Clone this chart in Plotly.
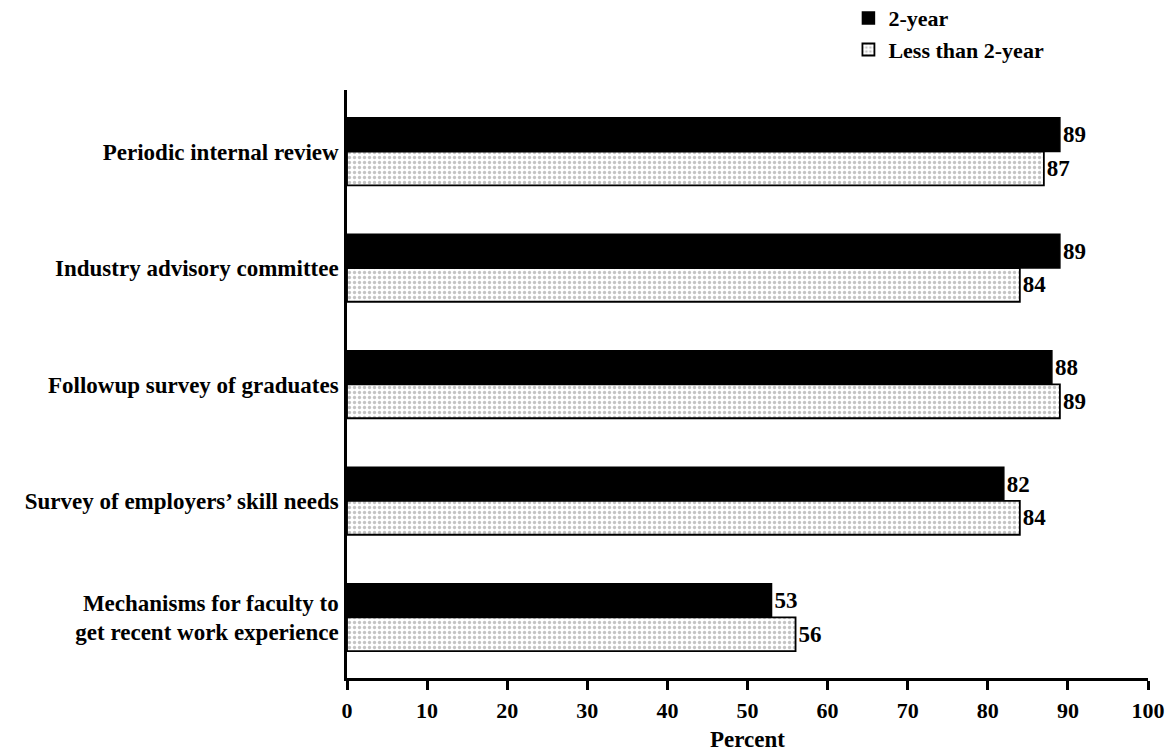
import plotly.graph_objects as go

categories = [
    "Periodic internal review",
    "Industry advisory committee",
    "Followup survey of graduates",
    "Survey of employers’ skill needs",
    "Mechanisms for faculty to<br>get recent work experience",
]
two_year = [89, 89, 88, 82, 53]
less_than_two_year = [87, 84, 89, 84, 56]
x_ticks = [0, 10, 20, 30, 40, 50, 60, 70, 80, 90, 100]

FONT = "Liberation Serif"

fig = go.Figure()
fig.add_trace(go.Bar(
    y=categories, x=two_year, orientation="h", name="2-year",
    marker=dict(color="black", line=dict(color="black", width=1.5)),
    text=[str(v) for v in two_year], textposition="outside",
    textfont=dict(family=FONT, size=23, color="black", weight="bold"),
    cliponaxis=False,
))
fig.add_trace(go.Bar(
    y=categories, x=less_than_two_year, orientation="h", name="Less than 2-year",
    marker=dict(color="white", line=dict(color="black", width=1.8),
                pattern=dict(shape=".", fgcolor="#8a8a8a", bgcolor="white",
                             size=5, solidity=0.35)),
    text=[str(v) for v in less_than_two_year], textposition="outside",
    textfont=dict(family=FONT, size=23, color="black", weight="bold"),
    cliponaxis=False,
))

fig.update_layout(
    width=1172, height=752,
    margin=dict(l=347, r=24, t=90, b=74, autoexpand=False),
    paper_bgcolor="white", plot_bgcolor="white",
    barmode="group", bargap=0.42, bargroupgap=0,
    font=dict(family=FONT, size=22, color="black", weight="bold"),
    showlegend=True,
    legend=dict(x=0.626, y=1.158, xanchor="left", yanchor="top",
                font=dict(family=FONT, size=22, color="black", weight="bold"),
                bgcolor="rgba(0,0,0,0)", tracegroupgap=0, itemwidth=30),
    xaxis=dict(range=[0, 100], tickvals=x_ticks, ticktext=[str(t) for t in x_ticks],
               showgrid=False, zeroline=False, showline=True, linecolor="black",
               linewidth=2.5, ticks="outside", ticklen=9, tickwidth=2.5, tickcolor="black",
               ticklabelstandoff=2,
               tickfont=dict(family=FONT, size=22, color="black", weight="bold"),
               title=dict(text="Percent", standoff=12,
                          font=dict(family=FONT, size=23, color="black", weight="bold"))),
    yaxis=dict(type="category", range=[4.52, -0.528], showgrid=False, zeroline=False,
               showline=True, linecolor="black", linewidth=2.5, ticks="",
               ticklabelstandoff=1,
               tickfont=dict(family=FONT, size=23, color="black", weight="bold")),
)

fig.write_html("out.html")
